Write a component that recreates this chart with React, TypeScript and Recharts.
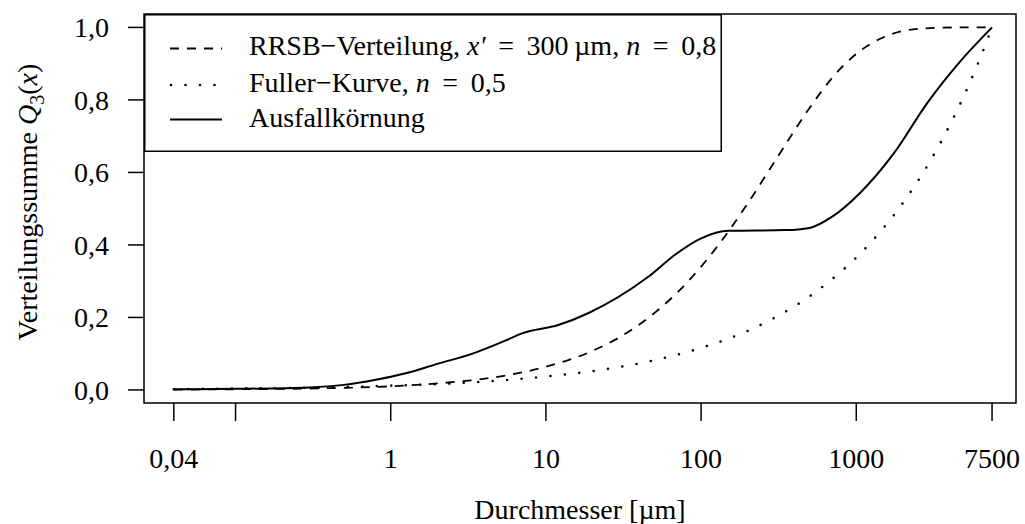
import { LineChart, Line, XAxis, YAxis, ReferenceArea, Legend } from "recharts";

// RRSB-Verteilung, x' = 300 µm, n = 0,8
const rrsbD = [0.04, 0.1, 0.3, 1, 2, 5, 10, 20, 30, 50, 70, 100, 150, 200, 300, 500, 700, 1000, 1500, 2000, 3000, 5000, 7500];
const rrsbQ = [0.001, 0.002, 0.004, 0.01, 0.018, 0.037, 0.064, 0.108, 0.146, 0.212, 0.268, 0.34, 0.437, 0.515, 0.632, 0.778, 0.861, 0.927, 0.973, 0.99, 0.998, 1.0, 1.0];

// Fuller-Kurve, n = 0,5
const fullerD = [0.04, 0.1, 0.3, 1, 2, 5, 10, 20, 50, 100, 200, 300, 500, 700, 1000, 1500, 2000, 3000, 4000, 5000, 6000, 7500];
const fullerQ = [0.002, 0.004, 0.006, 0.012, 0.016, 0.026, 0.037, 0.052, 0.082, 0.116, 0.163, 0.2, 0.258, 0.306, 0.365, 0.447, 0.516, 0.632, 0.73, 0.816, 0.894, 1.0];

// Ausfallkörnung
const ausfallD = [0.04, 0.1, 0.3, 0.5, 0.8, 1.25, 2, 3.4, 5.6, 7, 12, 19, 45, 70, 100, 150, 350, 500, 700, 1050, 1750, 2850, 4650, 7500];
const ausfallQ = [0.002, 0.003, 0.007, 0.014, 0.028, 0.046, 0.072, 0.101, 0.138, 0.156, 0.179, 0.213, 0.31, 0.377, 0.418, 0.439, 0.441, 0.447, 0.478, 0.542, 0.653, 0.79, 0.905, 1.0];

const xTicks = [0.04, 0.1, 1, 10, 100, 1000, 7500];
const yTicks = [0, 0.2, 0.4, 0.6, 0.8, 1.0];

const X_MIN = 0.0257;
const X_MAX = 10700;
const Y_MIN = -0.036;
const Y_MAX = 1.037;

const FONT = "Liberation Serif";
const DASH = "9 8";
const DOTS = "0 14.5";
const EQ = "\u2009 = \u2009";

const toRows = (ds: number[], qs: number[]) => ds.map((d, i) => ({ d, q: qs[i] }));

const rrsb = toRows(rrsbD, rrsbQ);
const fuller = toRows(fullerD, fullerQ);
const ausfall = toRows(ausfallD, ausfallQ);

const fmtX = (v: number) => {
  if (v === 0.1) return "";
  if (v < 1) return String(v).replace(".", ",");
  return String(v);
};
const fmtY = (v: number) => v.toFixed(1).replace(".", ",");

function YLabel() {
  return (
    <text x={37} y={0} transform="translate(0,202) rotate(-90,37,0)" textAnchor="middle" fontSize={28} fill="#000" fontFamily={FONT}>
      Verteilungssumme <tspan fontStyle="italic">Q</tspan>
      <tspan fontSize={20} dy={7}>3</tspan>
      <tspan dy={-7}>(</tspan>
      <tspan fontStyle="italic">x</tspan>)
    </text>
  );
}

function XLabel() {
  return (
    <text x={580} y={519} textAnchor="middle" fontSize={28} fill="#000" fontFamily={FONT}>
      Durchmesser [µm]
    </text>
  );
}

function LegendBox() {
  return (
    <svg width={578} height={138} style={{ display: "block" }} fontFamily={FONT}>
      <rect x={0.75} y={0.75} width={576.5} height={136.5} fill="#fff" stroke="#000" strokeWidth={1.5} />
      <line x1={26} x2={78} y1={34.5} y2={34.5} stroke="#000" strokeWidth={1.8} strokeDasharray={DASH} />
      <line x1={27} x2={78} y1={71} y2={71} stroke="#000" strokeWidth={2.6} strokeDasharray={DOTS} strokeLinecap="round" />
      <line x1={26} x2={78} y1={105.5} y2={105.5} stroke="#000" strokeWidth={2} />
      <text x={105} y={41} fontSize={28} fill="#000" fontFamily={FONT}>
        RRSB−Verteilung, <tspan fontStyle="italic">x′</tspan>{EQ}300{"\u2009"}µm, <tspan fontStyle="italic">n</tspan>{EQ}0,8
      </text>
      <text x={105} y={77.5} fontSize={28} fill="#000" fontFamily={FONT}>
        Fuller−Kurve, <tspan fontStyle="italic">n</tspan>{EQ}0,5
      </text>
      <text x={105} y={113} fontSize={28} fill="#000" fontFamily={FONT}>
        Ausfallkörnung
      </text>
    </svg>
  );
}

export default function App() {
  return (
    <div style={{ width: 1025, height: 524, fontFamily: FONT }}>
      <style>{"body{margin:0}"}</style>
      <LineChart width={1025} height={524} margin={{ top: 14, right: 9, bottom: 0, left: 0 }} style={{ fontFamily: FONT }}>
        <XAxis
          type="number"
          dataKey="d"
          scale="log"
          domain={[X_MIN, X_MAX]}
          allowDataOverflow
          ticks={xTicks}
          interval={0}
          tickFormatter={fmtX}
          height={121}
          axisLine={false}
          tickLine={{ stroke: "#000", strokeWidth: 1.5 }}
          tickSize={18}
          tickMargin={27}
          tick={{ fill: "#000", fontSize: 28, fontFamily: FONT }}
          label={<XLabel />}
        />
        <YAxis
          type="number"
          domain={[Y_MIN, Y_MAX]}
          allowDataOverflow
          ticks={yTicks}
          interval={0}
          tickFormatter={fmtY}
          width={144}
          axisLine={false}
          tickLine={{ stroke: "#000", strokeWidth: 1.5 }}
          tickSize={16}
          tickMargin={19}
          tick={{ fill: "#000", fontSize: 28, fontFamily: FONT }}
          label={<YLabel />}
        />
        <Legend layout="horizontal" verticalAlign="middle" align="center" content={() => <LegendBox />} wrapperStyle={{ position: "absolute", left: 144, top: 14, width: 578, height: 138 }} />
        <Line data={rrsb} dataKey="q" type="monotone" stroke="#000" strokeWidth={1.8} strokeDasharray={DASH} dot={false} activeDot={false} isAnimationActive={false} />
        <Line data={fuller} dataKey="q" type="monotone" stroke="#000" strokeWidth={2.6} strokeDasharray={DOTS} strokeLinecap="round" dot={false} activeDot={false} isAnimationActive={false} />
        <Line data={ausfall} dataKey="q" type="monotone" stroke="#000" strokeWidth={2} dot={false} activeDot={false} isAnimationActive={false} />
        <ReferenceArea x1={X_MIN} x2={X_MAX} y1={Y_MIN} y2={Y_MAX} fill="none" stroke="#000" strokeWidth={1.5} ifOverflow="visible" />
      </LineChart>
    </div>
  );
}
